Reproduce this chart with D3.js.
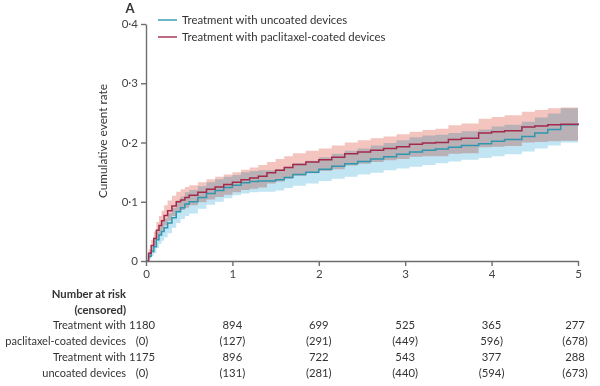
<!DOCTYPE html>
<meta charset="utf-8">
<head>
<script src="https://cdn.jsdelivr.net/npm/d3@7"></script>
<style>
  body { margin: 0; background: #fff; }
  text { font-family: Lato, "Open Sans", sans-serif; fill: #333; }
  .axis path, .axis line { stroke: #6e6e6e; stroke-width: 1.4; }
  .axis text { font-size: 11.5px; fill: #444; }
  .band { mix-blend-mode: multiply; }
</style>
</head>
<body>
<div id="chart"></div>
<script>
// time points (years) for the step curves
var times = [0, 0.03, 0.06, 0.09, 0.12, 0.15, 0.18, 0.21, 0.25, 0.3, 0.35, 0.4, 0.45, 0.5, 0.6, 0.7, 0.8, 0.9, 1.0, 1.1, 1.2, 1.3, 1.4, 1.5, 1.6, 1.7, 1.85, 2.0, 2.15, 2.3, 2.45, 2.6, 2.75, 2.9, 3.05, 3.2, 3.35, 3.5, 3.65, 3.85, 4.0, 4.15, 4.35, 4.5, 4.65, 4.8, 5.0];

// paclitaxel-coated devices
var paclitaxel = [0, 0.013, 0.026, 0.038, 0.052, 0.06, 0.068, 0.077, 0.085, 0.093, 0.1, 0.103, 0.107, 0.111, 0.116, 0.121, 0.125, 0.129, 0.133, 0.137, 0.14, 0.143, 0.149, 0.153, 0.158, 0.163, 0.167, 0.171, 0.175, 0.181, 0.184, 0.187, 0.19, 0.193, 0.197, 0.199, 0.2, 0.205, 0.207, 0.216, 0.218, 0.22, 0.226, 0.228, 0.23, 0.231, 0.232];
var paclitaxelLow = [0, 0.006, 0.016, 0.026, 0.038, 0.045, 0.052, 0.06, 0.068, 0.076, 0.083, 0.086, 0.09, 0.094, 0.099, 0.104, 0.108, 0.112, 0.116, 0.12, 0.122, 0.124, 0.131, 0.134, 0.139, 0.144, 0.148, 0.152, 0.155, 0.161, 0.164, 0.167, 0.17, 0.172, 0.176, 0.177, 0.177, 0.181, 0.182, 0.192, 0.193, 0.194, 0.2, 0.201, 0.202, 0.203, 0.204];
var paclitaxelHigh = [0, 0.02, 0.036, 0.05, 0.066, 0.076, 0.085, 0.094, 0.102, 0.11, 0.117, 0.121, 0.125, 0.128, 0.133, 0.138, 0.142, 0.146, 0.15, 0.154, 0.158, 0.162, 0.167, 0.172, 0.177, 0.182, 0.186, 0.19, 0.195, 0.2, 0.204, 0.207, 0.21, 0.214, 0.218, 0.221, 0.223, 0.229, 0.232, 0.24, 0.243, 0.246, 0.252, 0.255, 0.258, 0.259, 0.26];

// uncoated devices
var uncoated = [0, 0.008, 0.016, 0.024, 0.036, 0.044, 0.05, 0.056, 0.064, 0.073, 0.083, 0.09, 0.096, 0.1, 0.107, 0.114, 0.119, 0.124, 0.128, 0.132, 0.134, 0.135, 0.135, 0.137, 0.141, 0.146, 0.15, 0.155, 0.16, 0.164, 0.168, 0.172, 0.176, 0.18, 0.184, 0.187, 0.189, 0.192, 0.195, 0.198, 0.202, 0.205, 0.21, 0.216, 0.222, 0.23, 0.232];
var uncoatedLow = [0, 0.003, 0.008, 0.013, 0.022, 0.029, 0.034, 0.04, 0.047, 0.056, 0.064, 0.071, 0.076, 0.08, 0.088, 0.095, 0.1, 0.106, 0.111, 0.114, 0.116, 0.117, 0.117, 0.119, 0.123, 0.127, 0.131, 0.135, 0.139, 0.142, 0.146, 0.149, 0.153, 0.156, 0.159, 0.162, 0.165, 0.168, 0.171, 0.174, 0.177, 0.18, 0.185, 0.19, 0.195, 0.2, 0.202];
var uncoatedHigh = [0, 0.013, 0.024, 0.035, 0.05, 0.059, 0.066, 0.072, 0.081, 0.09, 0.102, 0.109, 0.116, 0.12, 0.126, 0.133, 0.138, 0.142, 0.145, 0.15, 0.152, 0.153, 0.153, 0.155, 0.159, 0.165, 0.169, 0.175, 0.181, 0.186, 0.19, 0.195, 0.199, 0.204, 0.209, 0.212, 0.213, 0.216, 0.219, 0.222, 0.227, 0.23, 0.235, 0.242, 0.249, 0.258, 0.262];

// number at risk table
var riskYears = [0, 1, 2, 3, 4, 5];
var riskPaclitaxel = ["1180", "894", "699", "525", "365", "277"];
var censPaclitaxel = ["(0)", "(127)", "(291)", "(449)", "596)", "(678)"];
var riskUncoated = ["1175", "896", "722", "543", "377", "288"];
var censUncoated = ["(0)", "(131)", "(281)", "(440)", "(594)", "(673)"];

var yTicks = [0, 0.1, 0.2, 0.3, 0.4];
var xTicks = [0, 1, 2, 3, 4, 5];

var width = 600, height = 386;
var svg = d3.select("#chart").append("svg")
    .attr("width", width)
    .attr("height", height);

var x = d3.scaleLinear().domain([0, 5]).range([146, 578]);
var y = d3.scaleLinear().domain([0, 0.4]).range([261, 24]);

function rows(v, lo, hi) {
  return times.map(function(t, i) { return {t: t, v: v[i], lo: lo[i], hi: hi[i]}; });
}
var pacData = rows(paclitaxel, paclitaxelLow, paclitaxelHigh);
var uncData = rows(uncoated, uncoatedLow, uncoatedHigh);

var area = d3.area()
    .curve(d3.curveStepAfter)
    .x(function(d) { return x(d.t); })
    .y0(function(d) { return y(d.lo); })
    .y1(function(d) { return y(d.hi); });

var line = d3.line()
    .curve(d3.curveStepAfter)
    .x(function(d) { return x(d.t); })
    .y(function(d) { return y(d.v); });

var bands = svg.append("g").style("isolation", "isolate");
bands.append("path").attr("class", "band").attr("d", area(uncData)).attr("fill", "#c2e5f3");
bands.append("path").attr("class", "band").attr("d", area(pacData)).attr("fill", "#f4c5be");

svg.append("path").attr("d", line(uncData))
    .attr("fill", "none").attr("stroke", "#2f97b0").attr("stroke-width", 1.5);
svg.append("path").attr("d", line(pacData))
    .attr("fill", "none").attr("stroke", "#a32a4d").attr("stroke-width", 1.5);

// axes
function fmt(d) { return d === 0 ? "0" : d3.format(".1f")(d).replace(".", "·"); }

svg.append("g").attr("class", "axis")
    .attr("transform", "translate(146,0)")
    .call(d3.axisLeft(y).tickValues(yTicks).tickFormat(fmt).tickSize(5).tickSizeOuter(0).tickPadding(3));

svg.append("g").attr("class", "axis")
    .attr("transform", "translate(0,261)")
    .call(d3.axisBottom(x).tickValues(xTicks).tickFormat(d3.format("d")).tickSize(5).tickSizeOuter(0).tickPadding(4));

svg.append("text")
    .attr("transform", "translate(107,141) rotate(-90)")
    .attr("text-anchor", "middle")
    .style("font-size", "11.8px")
    .text("Cumulative event rate");

svg.append("text")
    .attr("x", 130).attr("y", 13)
    .attr("text-anchor", "middle")
    .style("font-size", "13px").style("font-weight", "bold")
    .text("A");

// legend
var legendItems = [
  {label: "Treatment with uncoated devices", color: "#2f97b0"},
  {label: "Treatment with paclitaxel-coated devices", color: "#a32a4d"}
];
var lg = svg.append("g").attr("transform", "translate(158,20)");
legendItems.forEach(function(d, i) {
  lg.append("line").attr("x1", 0).attr("x2", 19).attr("y1", i * 17).attr("y2", i * 17)
    .attr("stroke", d.color).attr("stroke-width", 1.4);
  lg.append("text").attr("x", 24).attr("y", i * 17 + 4)
    .style("font-size", "11.4px").text(d.label);
});

// number at risk
var tab = svg.append("g");
tab.append("text").attr("x", 126).attr("y", 298).attr("text-anchor", "end")
  .style("font-size", "11.3px").style("font-weight", "bold").text("Number at risk");
tab.append("text").attr("x", 126).attr("y", 314).attr("text-anchor", "end")
  .style("font-size", "11.3px").style("font-weight", "bold").text("(censored)");

var tableRows = [
  {label: "Treatment with", vals: riskPaclitaxel},
  {label: "paclitaxel-coated devices", vals: censPaclitaxel},
  {label: "Treatment with", vals: riskUncoated},
  {label: "uncoated devices", vals: censUncoated}
];
tableRows.forEach(function(r, i) {
  var yy = 329 + i * 16;
  tab.append("text").attr("x", 126).attr("y", yy).attr("text-anchor", "end")
    .style("font-size", "11px").text(r.label);
  r.vals.forEach(function(v, j) {
    tab.append("text")
      .attr("x", x(riskYears[j]) + (j === 0 ? -4 : (j === 5 ? -3 : 0)))
      .attr("y", yy).attr("text-anchor", "middle")
      .style("font-size", "11.3px").text(v);
  });
});
</script>
</body>
